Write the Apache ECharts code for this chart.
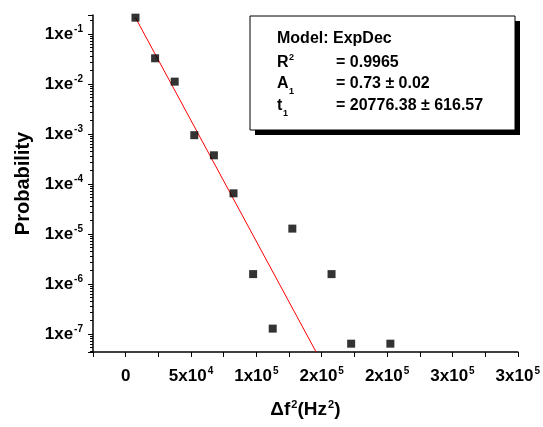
<!DOCTYPE html>
<html lang="en">
<head>
    <meta charset="UTF-8">
    <title>Probability vs df2</title>
    <script src="https://cdn.jsdelivr.net/npm/echarts@6/dist/echarts.min.js"></script>
    <style>
        html, body { margin: 0; padding: 0; background: #fff; }
        #charts { width: 543px; height: 427px; }
    </style>
</head>
<body>
<div id="charts"></div>

<script>
    // measured points (bin centres of df^2, probability)
    var dfSquared = [7500, 22500, 37500, 52500, 67500, 82500, 97500, 112500, 127500, 157500, 172500, 202500];
    var probability = [0.215, 0.0331, 0.0113, 9.6e-4, 3.8e-4, 6.6e-5, 1.6e-6, 1.3e-7, 1.3e-5, 1.6e-6, 6.5e-8, 6.5e-8];

    // ExpDec fit line, end points
    var fitX = [7500, 145700];
    var fitY = [0.215, 4.43e-8];

    // fit report lines
    var fitLabels = ['R', 'A', 't'];
    var fitMarks = ['2', '1', '1'];
    var fitValues = ['= 0.9965', '= 0.73 \u00b1 0.02', '= 20776.38 \u00b1 616.57'];

    var FONT = 'Arial, "Liberation Sans", sans-serif';

    var chart = document.getElementById('charts');
    var myChart = echarts.init(chart);

    function toPairs(xs, ys) {
        var out = [];
        for (var i = 0; i < xs.length; i++) out.push([xs[i], ys[i]]);
        return out;
    }

    function xLabel(v) {
        if (v < 0 || Math.round(v / 25000) % 2 !== 0) return '';
        if (v === 0) return '{b|0}';
        var e = Math.floor(Math.log10(v));
        var m = Math.round(v / Math.pow(10, e));
        return '{b|' + m + 'x10}{s|' + e + '}';
    }

    function yLabel(v) {
        var l = Math.log10(v);
        var e = Math.round(l);
        if (Math.abs(l - e) > 1e-6) return '';
        return '{b|1xe}{s|' + e + '}';
    }

    var labelRich = {
        b: { fontFamily: FONT, fontWeight: 'bold', fontSize: 17, color: '#000', lineHeight: 20 },
        s: { fontFamily: FONT, fontWeight: 'bold', fontSize: 10, color: '#000', verticalAlign: 'top', lineHeight: 10, padding: [0, 0, 11, 1] }
    };

    // text box with drop shadow
    var graphics = [
        { type: 'rect', shape: { x: 255, y: 21, width: 265, height: 114 }, style: { fill: '#000' }, z: 10 },
        { type: 'rect', shape: { x: 250, y: 16, width: 265, height: 114 }, style: { fill: '#fff', stroke: '#000', lineWidth: 1 }, z: 11 },
        { type: 'text', x: 277, y: 39, style: { text: 'Model: ExpDec', font: 'bold 16px ' + FONT, fill: '#000', verticalAlign: 'middle' }, z: 12 }
    ];
    var rowY = [63, 84, 106];
    for (var i = 0; i < fitLabels.length; i++) {
        graphics.push({ type: 'text', x: 277, y: rowY[i], style: { text: fitLabels[i], font: 'bold 16px ' + FONT, fill: '#000', verticalAlign: 'middle' }, z: 12 });
        var sup = i === 0;
        graphics.push({ type: 'text', x: i === 2 ? 283 : 289, y: sup ? rowY[i] - 5 : rowY[i] + 8,
            style: { text: fitMarks[i], font: 'bold 9px ' + FONT, fill: '#000', verticalAlign: 'middle' }, z: 12 });
        graphics.push({ type: 'text', x: 336, y: rowY[i], style: { text: fitValues[i], font: 'bold 16px ' + FONT, fill: '#000', verticalAlign: 'middle' }, z: 12 });
    }

    var option = {
        backgroundColor: '#fff',
        animation: false,
        grid: { left: 93, right: 24, top: 15, bottom: 75, containLabel: false },
        xAxis: {
            type: 'value',
            min: -25000,
            max: 300000,
            interval: 25000,
            name: '{b|\u0394f}{s|2}{b|(Hz}{s|2}{b|)}',
            nameLocation: 'middle',
            nameGap: 47,
            nameTextStyle: {
                rich: {
                    b: { fontFamily: FONT, fontWeight: 'bold', fontSize: 19, color: '#000', lineHeight: 22 },
                    s: { fontFamily: FONT, fontWeight: 'bold', fontSize: 11, color: '#000', verticalAlign: 'top', lineHeight: 11, padding: [0, 0, 11, 1] }
                }
            },
            axisLine: { show: true, onZero: false, lineStyle: { color: '#000', width: 1.5 } },
            axisTick: { show: true, length: 5, lineStyle: { color: '#000', width: 1 } },
            axisLabel: { formatter: xLabel, rich: labelRich, fontWeight: 'bold', margin: 14 },
            splitLine: { show: false }
        },
        yAxis: {
            type: 'log',
            logBase: 10,
            min: 4.43e-8,
            max: 0.243,
            name: 'Probability',
            nameLocation: 'middle',
            nameGap: 60,
            nameTextStyle: { fontFamily: FONT, fontWeight: 'bold', fontSize: 20, color: '#000' },
            axisLine: { show: true, onZero: false, lineStyle: { color: '#000', width: 1.5 } },
            axisTick: { show: true, length: 5, lineStyle: { color: '#000', width: 1 } },
            minorTick: { show: true, splitNumber: 10, length: 3, lineStyle: { color: '#000', width: 1 } },
            axisLabel: { formatter: yLabel, rich: labelRich, fontWeight: 'bold', margin: 10, showMinLabel: false, showMaxLabel: false },
            splitLine: { show: false },
            minorSplitLine: { show: false }
        },
        graphic: graphics,
        series: [
            {
                type: 'line',
                data: toPairs(fitX, fitY),
                symbol: 'none',
                lineStyle: { color: '#ff0000', width: 1 },
                z: 2
            },
            {
                type: 'scatter',
                data: toPairs(dfSquared, probability),
                symbol: 'rect',
                symbolSize: 8,
                itemStyle: { color: '#000' },
                z: 3
            }
        ]
    };

    myChart.setOption(option);
</script>
</body>
</html>
